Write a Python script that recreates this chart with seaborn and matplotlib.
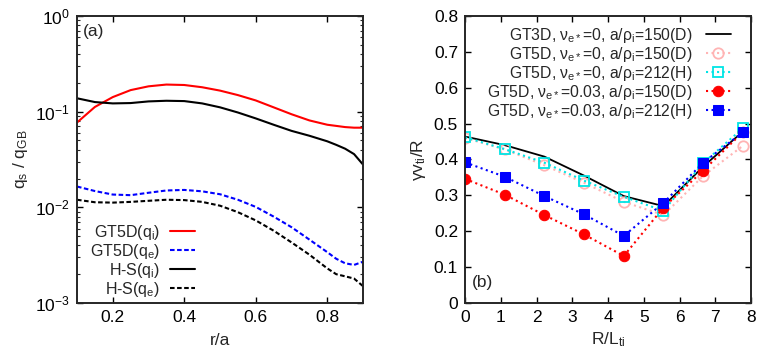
import numpy as np
import pandas as pd
import matplotlib
matplotlib.use("Agg")
import matplotlib.pyplot as plt
import seaborn as sns

# panel (a): heat flux profiles vs r/a
r_a = [0.10, 0.15, 0.20, 0.25, 0.30, 0.35, 0.40, 0.45, 0.50, 0.55,
       0.60, 0.65, 0.70, 0.75, 0.80, 0.825, 0.85, 0.875, 0.90]
gt5d_qi = [0.077, 0.112, 0.142, 0.168, 0.184, 0.192, 0.190, 0.180, 0.166, 0.149,
           0.131, 0.111, 0.094, 0.081, 0.073, 0.071, 0.069, 0.068, 0.068]
gt5d_qe = [0.0165, 0.0148, 0.0136, 0.0134, 0.0142, 0.0150, 0.0152, 0.0147, 0.0137, 0.0120,
           0.0101, 0.0080, 0.0062, 0.0046, 0.0034, 0.0029, 0.0026, 0.0025, 0.0027]
hs_qi = [0.138, 0.126, 0.122, 0.123, 0.128, 0.130, 0.129, 0.122, 0.111, 0.098,
         0.085, 0.073, 0.063, 0.056, 0.049, 0.045, 0.041, 0.036, 0.028]
hs_qe = [0.0120, 0.0113, 0.0112, 0.0114, 0.0117, 0.0120, 0.0119, 0.0114, 0.0104, 0.0089,
         0.0073, 0.0057, 0.0043, 0.0032, 0.0023, 0.0020, 0.0019, 0.0018, 0.0015]

# panel (b): growth rate vs R/L_ti
r_lti = [0.0, 1.11, 2.22, 3.33, 4.44, 5.55, 6.66, 7.77]
gt3d_150 = [0.464, 0.440, 0.408, 0.355, 0.298, 0.270, 0.380, 0.478]
gt5d_0_150 = [0.460, 0.428, 0.384, 0.335, 0.282, 0.245, 0.354, 0.438]
gt5d_0_212 = [0.462, 0.429, 0.391, 0.341, 0.296, 0.257, 0.390, 0.487]
gt5d_3_150 = [0.346, 0.302, 0.245, 0.191, 0.131, 0.266, 0.369, 0.476]
gt5d_3_212 = [0.392, 0.352, 0.298, 0.247, 0.187, 0.279, 0.391, 0.476]

sns.set_theme(style="ticks")
plt.rcParams["font.family"] = ["Liberation Sans", "DejaVu Sans"]
plt.rcParams["mathtext.fontset"] = "custom"
plt.rcParams["mathtext.rm"] = "Liberation Sans"
plt.rcParams["mathtext.it"] = "Liberation Sans"
plt.rcParams["axes.linewidth"] = 1.4
plt.rcParams["xtick.direction"] = "in"
plt.rcParams["ytick.direction"] = "in"
plt.rcParams["xtick.top"] = True
plt.rcParams["ytick.right"] = True

FS = 12.5
fig = plt.figure(figsize=(7.58, 3.54), dpi=100)
ax1 = fig.add_axes([0.1016, 0.1441, 0.3773, 0.8107])
ax2 = fig.add_axes([0.6135, 0.1441, 0.3773, 0.8107])

# ---- (a)
dfa = pd.DataFrame({"r": r_a, "gqi": gt5d_qi, "gqe": gt5d_qe, "hqi": hs_qi, "hqe": hs_qe})
sns.lineplot(data=dfa, x="r", y="gqi", ax=ax1, color="#ff0000", lw=1.5,
             label=r"GT5D($\mathregular{q_i}$)")
sns.lineplot(data=dfa, x="r", y="gqe", ax=ax1, color="#0000ff", lw=1.5,
             dashes=False, linestyle=(0, (2.2, 1.2)), label=r"GT5D($\mathregular{q_e}$)")
sns.lineplot(data=dfa, x="r", y="hqi", ax=ax1, color="black", lw=1.5,
             label=r"H-S($\mathregular{q_i}$)")
sns.lineplot(data=dfa, x="r", y="hqe", ax=ax1, color="black", lw=1.5,
             dashes=False, linestyle=(0, (2.2, 1.2)), label=r"H-S($\mathregular{q_e}$)")
ax1.set_yscale("log")
ax1.set_xlim(0.1, 0.9)
ax1.set_ylim(1e-3, 1)
ax1.set_xticks([0.2, 0.4, 0.6, 0.8])
ax1.set_xticklabels(["0.2", "0.4", "0.6", "0.8"])
ax1.set_xlabel("r/a", fontsize=FS, labelpad=6)
ax1.set_ylabel(r"$\mathregular{q_s\ /\ q_{GB}}$", fontsize=FS, labelpad=4)
ax1.tick_params(which="major", length=4, width=1, labelsize=FS, colors="black", pad=5)
ax1.tick_params(which="minor", length=2, width=0.8)
ax1.text(0.02, 0.945, "(a)", transform=ax1.transAxes, fontsize=FS, va="center")
ax1.legend(loc="lower right", bbox_to_anchor=(0.45, -0.025), markerfirst=False,
           frameon=False, fontsize=11.5, handlelength=1.55, labelspacing=0.0,
           handletextpad=0.6, borderaxespad=0.3)

# ---- (b)
dfb = pd.DataFrame({"x": r_lti, "a": gt3d_150, "b": gt5d_0_150, "c": gt5d_0_212,
                    "d": gt5d_3_150, "e": gt5d_3_212})
nu = r"$\mathregular{\nu_{e*}}$"
rho = r"$\mathregular{\rho_i}$"
sns.lineplot(data=dfb, x="x", y="a", ax=ax2, color="black", lw=1.3,
             label=f"GT3D, {nu}=0, a/{rho}=150(D)")
sns.lineplot(data=dfb, x="x", y="b", ax=ax2, color="#ffb4b4", lw=1.5, linestyle=":",
             marker="o", markersize=7.5, markerfacecolor="none", markeredgecolor="#ffb4b4",
             markeredgewidth=1.3, label=f"GT5D, {nu}=0, a/{rho}=150(D)")
sns.lineplot(data=dfb, x="x", y="c", ax=ax2, color="#00e5e5", lw=1.5, linestyle=":",
             marker="s", markersize=7.5, markerfacecolor="none", markeredgecolor="#00e5e5",
             markeredgewidth=1.3, label=f"GT5D, {nu}=0, a/{rho}=212(H)")
sns.lineplot(data=dfb, x="x", y="d", ax=ax2, color="#ff0000", lw=1.5, linestyle=":",
             marker="o", markersize=7.5, markeredgecolor="#ff0000",
             label=f"GT5D, {nu}=0.03, a/{rho}=150(D)")
sns.lineplot(data=dfb, x="x", y="e", ax=ax2, color="#0000ff", lw=1.5, linestyle=":",
             marker="s", markersize=7.5, markeredgecolor="#0000ff",
             label=f"GT5D, {nu}=0.03, a/{rho}=212(H)")
ax2.set_xlim(0, 8)
ax2.set_ylim(0, 0.8)
ax2.set_xticks(range(0, 9))
ax2.set_yticks(np.arange(0, 0.81, 0.1))
ax2.set_yticklabels(["0", "0.1", "0.2", "0.3", "0.4", "0.5", "0.6", "0.7", "0.8"])
ax2.set_xlabel(r"$\mathregular{R/L_{ti}}$", fontsize=FS, labelpad=4)
ax2.set_ylabel(r"$\mathregular{\gamma v_{ti}/R}$", fontsize=FS, labelpad=4)
ax2.tick_params(which="major", length=4, width=1, labelsize=FS, colors="black", pad=5)
ax2.text(0.025, 0.073, "(b)", transform=ax2.transAxes, fontsize=FS, va="center")
ax2.legend(loc="upper right", bbox_to_anchor=(0.967, 1.005), markerfirst=False,
           frameon=False, fontsize=11.3, handlelength=1.55, labelspacing=0.0,
           handletextpad=0.9, borderaxespad=0.3)

fig.savefig("out.png", dpi=100)
